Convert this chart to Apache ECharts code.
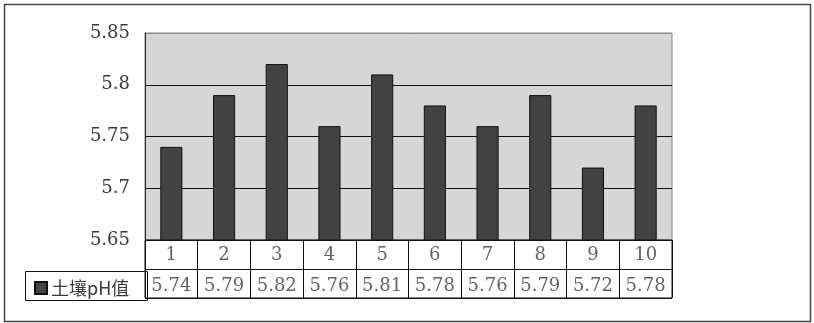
<!DOCTYPE html>
<html><head><meta charset="utf-8">
<script src="https://cdn.jsdelivr.net/npm/echarts@6/dist/echarts.min.js"></script>
<style>html,body{margin:0;padding:0;background:#fff;}#c{width:814px;height:323px;}</style>
</head><body><div id="c"></div>
<script>
const categories = ['1','2','3','4','5','6','7','8','9','10'];
const seriesName = '土壤pH值';
const phValues = [5.74, 5.79, 5.82, 5.76, 5.81, 5.78, 5.76, 5.79, 5.72, 5.78];
const yTicks = [5.65, 5.7, 5.75, 5.8, 5.85];

const serif = 'DejaVu Serif';
const txt = '#3a3a3a';
const chart = echarts.init(document.getElementById('c'));
const catCells = categories.map((c, i) => ({ value: [i, 'cat'], text: c, label: { offset: [0, 1] } }));
const valCells = phValues.map((v, i) => ({ value: [i, 'val'], text: String(v), label: { offset: [0, 3] } }));

chart.setOption({
  animation: false,
  backgroundColor: '#fff',
  grid: [
    { left: 145, top: 33, width: 527, height: 207, show: true, backgroundColor: '#d6d6d6', borderColor: '#8a8a8a', borderWidth: 1 },
    { left: 145, top: 240, width: 527, height: 58, show: true, backgroundColor: '#fff', borderColor: '#111', borderWidth: 1 }
  ],
  xAxis: [
    { type: 'category', gridIndex: 0, data: categories, axisLine: { show: false }, axisTick: { show: false }, axisLabel: { show: false } },
    { type: 'category', gridIndex: 1, data: categories, boundaryGap: true,
      axisLine: { show: false }, axisTick: { show: false }, axisLabel: { show: false },
      splitLine: { show: true, lineStyle: { color: '#111', width: 1 } } }
  ],
  yAxis: [
    { type: 'value', gridIndex: 0, min: yTicks[0], max: yTicks[yTicks.length - 1], interval: 0.05,
      axisLine: { show: true, lineStyle: { color: '#222', width: 1 } },
      axisTick: { show: false },
      axisLabel: { margin: 15, fontFamily: serif, fontSize: 18, color: txt, formatter: v => String(+v.toFixed(2)) },
      splitLine: { show: true, lineStyle: { color: ['#111', '#111', '#111', '#111', '#8a8a8a'], width: 1.2 } } },
    { type: 'category', gridIndex: 1, data: ['val', 'cat'], boundaryGap: true,
      axisLine: { show: false }, axisTick: { show: false }, axisLabel: { show: false },
      splitLine: { show: true, lineStyle: { color: '#111', width: 1 } } }
  ],
  legend: {
    left: 29, top: 274, itemWidth: 12, itemHeight: 12, itemGap: 4, icon: 'rect',
    data: [seriesName],
    textStyle: { fontFamily: 'Noto Sans CJK SC', fontSize: 18, color: txt, padding: [0, 0, 0, -1] }
  },
  graphic: [
    { type: 'rect', left: 2, top: 2, shape: { width: 806, height: 317 }, style: { fill: 'none', stroke: '#444', lineWidth: 1.5 }, silent: true },
    { type: 'rect', left: 23, top: 269, shape: { width: 122, height: 29 }, style: { fill: 'none', stroke: '#111', lineWidth: 1 }, silent: true }
  ],
  series: [
    { name: seriesName, type: 'bar', xAxisIndex: 0, yAxisIndex: 0, data: phValues, barWidth: '42%',
      itemStyle: { color: '#424242', borderColor: '#111', borderWidth: 1 } },
    { type: 'scatter', xAxisIndex: 1, yAxisIndex: 1, symbolSize: 0, silent: true,
      data: catCells.concat(valCells),
      label: { show: true, position: 'inside', fontFamily: serif, fontSize: 18, color: txt,
        formatter: p => p.data.text } }
  ]
});
</script></body></html>
